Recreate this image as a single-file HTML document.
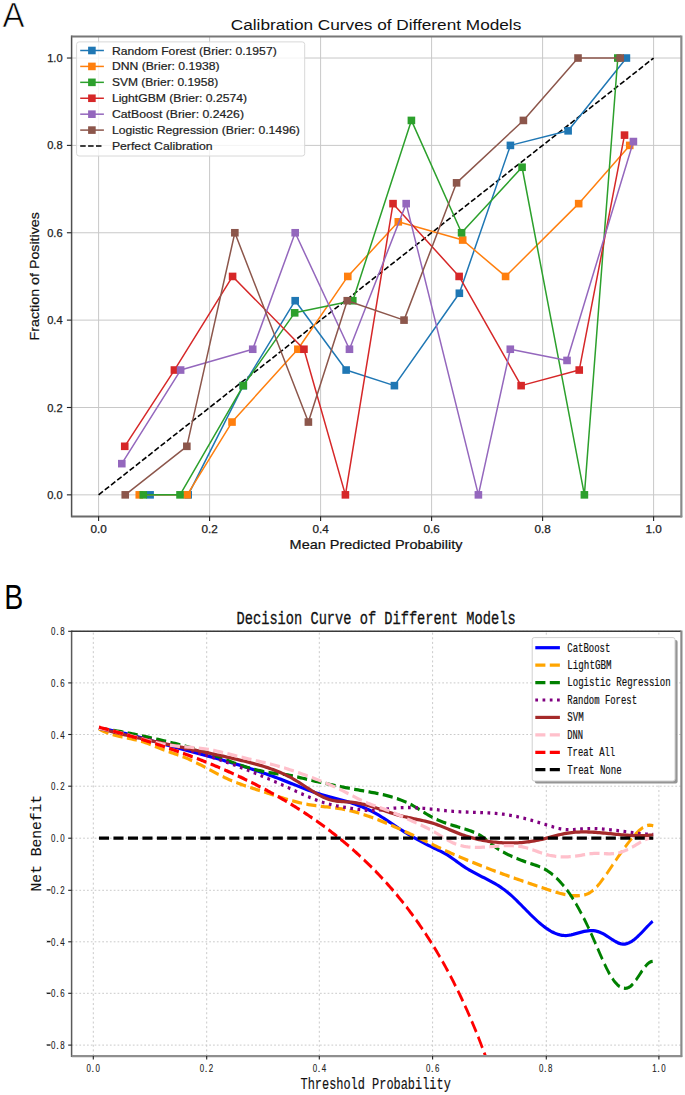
<!DOCTYPE html>
<html><head><meta charset="utf-8"><title>Calibration and Decision Curves</title>
<style>html,body{margin:0;padding:0;background:#fff;width:685px;height:1095px;overflow:hidden}svg{display:block}</style>
</head><body><svg width="685" height="1095" viewBox="0 0 685 1095"><g stroke="#c8c8c8" stroke-width="1"><line x1="98.60" y1="36.4" x2="98.60" y2="516.3"/><line x1="71.5" y1="494.85" x2="681.2" y2="494.85"/><line x1="209.60" y1="36.4" x2="209.60" y2="516.3"/><line x1="71.5" y1="407.49" x2="681.2" y2="407.49"/><line x1="320.60" y1="36.4" x2="320.60" y2="516.3"/><line x1="71.5" y1="320.12" x2="681.2" y2="320.12"/><line x1="431.60" y1="36.4" x2="431.60" y2="516.3"/><line x1="71.5" y1="232.76" x2="681.2" y2="232.76"/><line x1="542.60" y1="36.4" x2="542.60" y2="516.3"/><line x1="71.5" y1="145.39" x2="681.2" y2="145.39"/><line x1="653.60" y1="36.4" x2="653.60" y2="516.3"/><line x1="71.5" y1="58.03" x2="681.2" y2="58.03"/></g>
<line x1="98.60" y1="494.85" x2="653.60" y2="58.03" stroke="#000" stroke-width="1.6" stroke-dasharray="5.5,2.4"/>
<polyline points="150.10,494.85 188.18,494.85 243.29,385.65 295.18,300.71 346.13,370.04 394.41,385.65 459.35,293.24 510.41,145.39 568.13,130.83 626.40,58.03" fill="none" stroke="#1f77b4" stroke-width="1.5" stroke-linejoin="round"/>
<g fill="#1f77b4"><rect x="146.30" y="491.05" width="7.6" height="7.6"/><rect x="184.38" y="491.05" width="7.6" height="7.6"/><rect x="239.49" y="381.85" width="7.6" height="7.6"/><rect x="291.38" y="296.91" width="7.6" height="7.6"/><rect x="342.33" y="366.24" width="7.6" height="7.6"/><rect x="390.61" y="381.85" width="7.6" height="7.6"/><rect x="455.55" y="289.44" width="7.6" height="7.6"/><rect x="506.61" y="141.59" width="7.6" height="7.6"/><rect x="564.33" y="127.03" width="7.6" height="7.6"/><rect x="622.61" y="54.23" width="7.6" height="7.6"/></g>
<polyline points="139.28,494.85 187.18,494.85 232.02,422.05 297.85,349.24 347.79,276.44 398.30,221.84 462.68,240.04 505.58,276.44 578.67,203.64 629.74,145.39" fill="none" stroke="#ff7f0e" stroke-width="1.5" stroke-linejoin="round"/>
<g fill="#ff7f0e"><rect x="135.48" y="491.05" width="7.6" height="7.6"/><rect x="183.38" y="491.05" width="7.6" height="7.6"/><rect x="228.22" y="418.25" width="7.6" height="7.6"/><rect x="294.05" y="345.44" width="7.6" height="7.6"/><rect x="343.99" y="272.64" width="7.6" height="7.6"/><rect x="394.50" y="218.04" width="7.6" height="7.6"/><rect x="458.88" y="236.24" width="7.6" height="7.6"/><rect x="501.78" y="272.64" width="7.6" height="7.6"/><rect x="574.88" y="199.84" width="7.6" height="7.6"/><rect x="625.94" y="141.59" width="7.6" height="7.6"/></g>
<polyline points="143.28,494.85 180.02,494.85 243.29,385.65 294.68,312.84 352.79,300.71 411.40,120.43 461.57,232.76 522.07,167.24 584.39,494.85 617.80,58.03" fill="none" stroke="#2ca02c" stroke-width="1.5" stroke-linejoin="round"/>
<g fill="#2ca02c"><rect x="139.48" y="491.05" width="7.6" height="7.6"/><rect x="176.22" y="491.05" width="7.6" height="7.6"/><rect x="239.49" y="381.85" width="7.6" height="7.6"/><rect x="290.88" y="309.04" width="7.6" height="7.6"/><rect x="348.99" y="296.91" width="7.6" height="7.6"/><rect x="407.60" y="116.63" width="7.6" height="7.6"/><rect x="457.77" y="228.96" width="7.6" height="7.6"/><rect x="518.27" y="163.44" width="7.6" height="7.6"/><rect x="580.59" y="491.05" width="7.6" height="7.6"/><rect x="614.00" y="54.23" width="7.6" height="7.6"/></g>
<polyline points="124.74,446.31 174.41,370.04 232.58,276.44 303.95,349.24 345.41,494.85 393.03,203.64 459.13,276.44 521.12,385.65 579.23,370.04 624.52,135.12" fill="none" stroke="#d62728" stroke-width="1.5" stroke-linejoin="round"/>
<g fill="#d62728"><rect x="120.94" y="442.51" width="7.6" height="7.6"/><rect x="170.61" y="366.24" width="7.6" height="7.6"/><rect x="228.78" y="272.64" width="7.6" height="7.6"/><rect x="300.15" y="345.44" width="7.6" height="7.6"/><rect x="341.61" y="491.05" width="7.6" height="7.6"/><rect x="389.23" y="199.84" width="7.6" height="7.6"/><rect x="455.33" y="272.64" width="7.6" height="7.6"/><rect x="517.32" y="381.85" width="7.6" height="7.6"/><rect x="575.43" y="366.24" width="7.6" height="7.6"/><rect x="620.72" y="131.32" width="7.6" height="7.6"/></g>
<polyline points="121.80,463.65 180.63,370.04 252.72,349.24 295.18,232.76 349.46,349.24 406.18,203.64 478.39,494.85 510.30,349.24 567.02,360.44 633.40,141.55" fill="none" stroke="#9467bd" stroke-width="1.5" stroke-linejoin="round"/>
<g fill="#9467bd"><rect x="118.00" y="459.85" width="7.6" height="7.6"/><rect x="176.83" y="366.24" width="7.6" height="7.6"/><rect x="248.92" y="345.44" width="7.6" height="7.6"/><rect x="291.38" y="228.96" width="7.6" height="7.6"/><rect x="345.66" y="345.44" width="7.6" height="7.6"/><rect x="402.38" y="199.84" width="7.6" height="7.6"/><rect x="474.59" y="491.05" width="7.6" height="7.6"/><rect x="506.50" y="345.44" width="7.6" height="7.6"/><rect x="563.22" y="356.64" width="7.6" height="7.6"/><rect x="629.60" y="137.75" width="7.6" height="7.6"/></g>
<polyline points="125.24,494.85 186.84,446.31 234.85,232.76 308.39,422.05 347.24,300.71 404.02,320.12 456.58,182.84 523.40,120.43 578.01,58.03 620.19,58.03" fill="none" stroke="#8c564b" stroke-width="1.5" stroke-linejoin="round"/>
<g fill="#8c564b"><rect x="121.44" y="491.05" width="7.6" height="7.6"/><rect x="183.04" y="442.51" width="7.6" height="7.6"/><rect x="231.05" y="228.96" width="7.6" height="7.6"/><rect x="304.59" y="418.25" width="7.6" height="7.6"/><rect x="343.44" y="296.91" width="7.6" height="7.6"/><rect x="400.22" y="316.32" width="7.6" height="7.6"/><rect x="452.78" y="179.04" width="7.6" height="7.6"/><rect x="519.60" y="116.63" width="7.6" height="7.6"/><rect x="574.21" y="54.23" width="7.6" height="7.6"/><rect x="616.39" y="54.23" width="7.6" height="7.6"/></g>
<line x1="71.6" y1="35.4" x2="71.6" y2="517.3" stroke="#505050" stroke-width="1.5"/>
<line x1="71.5" y1="36.4" x2="681.2" y2="36.4" stroke="#777" stroke-width="2"/>
<line x1="71.5" y1="516.5" x2="682.2" y2="516.5" stroke="#6a6a6a" stroke-width="2"/>
<line x1="681.35" y1="35.4" x2="681.35" y2="517.3" stroke="#8a8a8a" stroke-width="2.2"/>
<g stroke="#222" stroke-width="1.1"><line x1="98.60" y1="516.3" x2="98.60" y2="521.10"/><line x1="66.90" y1="494.85" x2="71.5" y2="494.85"/><line x1="209.60" y1="516.3" x2="209.60" y2="521.10"/><line x1="66.90" y1="407.49" x2="71.5" y2="407.49"/><line x1="320.60" y1="516.3" x2="320.60" y2="521.10"/><line x1="66.90" y1="320.12" x2="71.5" y2="320.12"/><line x1="431.60" y1="516.3" x2="431.60" y2="521.10"/><line x1="66.90" y1="232.76" x2="71.5" y2="232.76"/><line x1="542.60" y1="516.3" x2="542.60" y2="521.10"/><line x1="66.90" y1="145.39" x2="71.5" y2="145.39"/><line x1="653.60" y1="516.3" x2="653.60" y2="521.10"/><line x1="66.90" y1="58.03" x2="71.5" y2="58.03"/></g>
<g font-family='"Liberation Sans", sans-serif' font-size="10.7" fill="#222" stroke="#222" stroke-width="0.25"><text x="90.45" y="532.7" textLength="16.3" lengthAdjust="spacingAndGlyphs">0.0</text><text x="47.20" y="498.95" textLength="15.4" lengthAdjust="spacingAndGlyphs">0.0</text><text x="201.45" y="532.7" textLength="16.3" lengthAdjust="spacingAndGlyphs">0.2</text><text x="47.20" y="411.59" textLength="15.4" lengthAdjust="spacingAndGlyphs">0.2</text><text x="312.45" y="532.7" textLength="16.3" lengthAdjust="spacingAndGlyphs">0.4</text><text x="47.20" y="324.22" textLength="15.4" lengthAdjust="spacingAndGlyphs">0.4</text><text x="423.45" y="532.7" textLength="16.3" lengthAdjust="spacingAndGlyphs">0.6</text><text x="47.20" y="236.86" textLength="15.4" lengthAdjust="spacingAndGlyphs">0.6</text><text x="534.45" y="532.7" textLength="16.3" lengthAdjust="spacingAndGlyphs">0.8</text><text x="47.20" y="149.49" textLength="15.4" lengthAdjust="spacingAndGlyphs">0.8</text><text x="645.45" y="532.7" textLength="16.3" lengthAdjust="spacingAndGlyphs">1.0</text><text x="47.20" y="62.13" textLength="15.4" lengthAdjust="spacingAndGlyphs">1.0</text></g>
<text x="230.8" y="29.5" font-family='"Liberation Sans", sans-serif' font-size="15.5" textLength="290.5" lengthAdjust="spacingAndGlyphs" fill="#111">Calibration Curves of Different Models</text>
<text x="289.6" y="549.3" font-family='"Liberation Sans", sans-serif' font-size="13.2" textLength="172.9" lengthAdjust="spacingAndGlyphs" fill="#111" stroke="#111" stroke-width="0.2">Mean Predicted Probability</text>
<text transform="translate(38.9,340.4) rotate(-90)" x="0" y="0" font-family='"Liberation Sans", sans-serif' font-size="13.2" textLength="128.3" lengthAdjust="spacingAndGlyphs" fill="#111" stroke="#111" stroke-width="0.2">Fraction of Positives</text>
<rect x="76.6" y="41.9" width="228.10" height="114.10" rx="2.5" fill="#fff" fill-opacity="0.8" stroke="#d8d8d8" stroke-width="1"/>
<line x1="80.2" y1="50.50" x2="103.9" y2="50.50" stroke="#1f77b4" stroke-width="1.5"/>
<rect x="88.10" y="46.70" width="7.6" height="7.6" fill="#1f77b4"/>
<text x="111.9" y="54.50" font-family='"Liberation Sans", sans-serif' font-size="11.3" textLength="164.8" lengthAdjust="spacingAndGlyphs" fill="#222" stroke="#222" stroke-width="0.2">Random Forest (Brier: 0.1957)</text>
<line x1="80.2" y1="66.42" x2="103.9" y2="66.42" stroke="#ff7f0e" stroke-width="1.5"/>
<rect x="88.10" y="62.62" width="7.6" height="7.6" fill="#ff7f0e"/>
<text x="111.9" y="70.42" font-family='"Liberation Sans", sans-serif' font-size="11.3" textLength="107.7" lengthAdjust="spacingAndGlyphs" fill="#222" stroke="#222" stroke-width="0.2">DNN (Brier: 0.1938)</text>
<line x1="80.2" y1="82.34" x2="103.9" y2="82.34" stroke="#2ca02c" stroke-width="1.5"/>
<rect x="88.10" y="78.54" width="7.6" height="7.6" fill="#2ca02c"/>
<text x="111.9" y="86.34" font-family='"Liberation Sans", sans-serif' font-size="11.3" textLength="106.3" lengthAdjust="spacingAndGlyphs" fill="#222" stroke="#222" stroke-width="0.2">SVM (Brier: 0.1958)</text>
<line x1="80.2" y1="98.26" x2="103.9" y2="98.26" stroke="#d62728" stroke-width="1.5"/>
<rect x="88.10" y="94.46" width="7.6" height="7.6" fill="#d62728"/>
<text x="111.9" y="102.26" font-family='"Liberation Sans", sans-serif' font-size="11.3" textLength="135.1" lengthAdjust="spacingAndGlyphs" fill="#222" stroke="#222" stroke-width="0.2">LightGBM (Brier: 0.2574)</text>
<line x1="80.2" y1="114.18" x2="103.9" y2="114.18" stroke="#9467bd" stroke-width="1.5"/>
<rect x="88.10" y="110.38" width="7.6" height="7.6" fill="#9467bd"/>
<text x="111.9" y="118.18" font-family='"Liberation Sans", sans-serif' font-size="11.3" textLength="132.1" lengthAdjust="spacingAndGlyphs" fill="#222" stroke="#222" stroke-width="0.2">CatBoost (Brier: 0.2426)</text>
<line x1="80.2" y1="130.10" x2="103.9" y2="130.10" stroke="#8c564b" stroke-width="1.5"/>
<rect x="88.10" y="126.30" width="7.6" height="7.6" fill="#8c564b"/>
<text x="111.9" y="134.10" font-family='"Liberation Sans", sans-serif' font-size="11.3" textLength="187.9" lengthAdjust="spacingAndGlyphs" fill="#222" stroke="#222" stroke-width="0.2">Logistic Regression (Brier: 0.1496)</text>
<line x1="80.2" y1="146.02" x2="103.9" y2="146.02" stroke="#000" stroke-width="1.6" stroke-dasharray="5.5,2.4"/>
<text x="111.9" y="150.02" font-family='"Liberation Sans", sans-serif' font-size="11.3" textLength="100.7" lengthAdjust="spacingAndGlyphs" fill="#222" stroke="#222" stroke-width="0.2">Perfect Calibration</text>
<text x="2.6" y="27.1" font-family='"Liberation Sans", sans-serif' font-size="35.6" textLength="22.0" lengthAdjust="spacingAndGlyphs" fill="#000" stroke="#fff" stroke-width="0.7">A</text>
<text x="4.2" y="608.8" font-family='"Liberation Sans", sans-serif' font-size="35.6" textLength="19" lengthAdjust="spacingAndGlyphs" fill="#000">B</text>
<g stroke="#cacaca" stroke-width="1"><line x1="93.30" y1="1056.0" x2="93.30" y2="631.3" stroke-dasharray="2.05,2.58"/><line x1="206.70" y1="1056.0" x2="206.70" y2="631.3" stroke-dasharray="2.05,2.58"/><line x1="319.30" y1="1056.0" x2="319.30" y2="631.3" stroke-dasharray="2.05,2.58"/><line x1="432.60" y1="1056.0" x2="432.60" y2="631.3" stroke-dasharray="2.05,2.58"/><line x1="546.30" y1="1056.0" x2="546.30" y2="631.3" stroke-dasharray="2.05,2.58"/><line x1="658.90" y1="1056.0" x2="658.90" y2="631.3" stroke-dasharray="2.05,2.58"/><line x1="71.7" y1="1045.10" x2="681.2" y2="1045.10" stroke-dasharray="1.75,2.07"/><line x1="71.7" y1="993.30" x2="681.2" y2="993.30" stroke-dasharray="1.75,2.07"/><line x1="71.7" y1="941.80" x2="681.2" y2="941.80" stroke-dasharray="1.75,2.07"/><line x1="71.7" y1="890.30" x2="681.2" y2="890.30" stroke-dasharray="1.75,2.07"/><line x1="71.7" y1="838.20" x2="681.2" y2="838.20" stroke-dasharray="1.75,2.07"/><line x1="71.7" y1="786.20" x2="681.2" y2="786.20" stroke-dasharray="1.75,2.07"/><line x1="71.7" y1="734.50" x2="681.2" y2="734.50" stroke-dasharray="1.75,2.07"/><line x1="71.7" y1="682.90" x2="681.2" y2="682.90" stroke-dasharray="1.75,2.07"/><line x1="71.7" y1="631.30" x2="681.2" y2="631.30" stroke-dasharray="1.75,2.07"/></g>
<defs><clipPath id="cb"><rect x="71.7" y="665.78" width="609.50" height="353.92"/></clipPath></defs>
<g transform="translate(0,838.2) scale(1,1.2) translate(0,-838.2)" clip-path="url(#cb)" fill="none" stroke-linecap="butt" stroke-linejoin="round">
<path d="M98.96,746.65 L100.81,746.87 L102.66,747.10 L104.51,747.35 L106.36,747.61 L108.22,747.89 L110.07,748.18 L111.92,748.48 L113.77,748.79 L115.62,749.12 L117.48,749.45 L119.33,749.80 L121.18,750.15 L123.03,750.52 L124.88,750.89 L126.73,751.27 L128.59,751.66 L130.44,752.05 L132.29,752.46 L134.14,752.86 L135.99,753.28 L137.85,753.70 L139.70,754.12 L141.55,754.55 L143.40,754.98 L145.25,755.42 L147.11,755.86 L148.96,756.30 L150.81,756.74 L152.66,757.18 L154.51,757.63 L156.37,758.07 L158.22,758.52 L160.07,758.96 L161.92,759.40 L163.77,759.84 L165.62,760.28 L167.48,760.72 L169.33,761.15 L171.18,761.58 L173.03,762.00 L174.88,762.43 L176.74,762.84 L178.59,763.26 L180.44,763.67 L182.29,764.09 L184.14,764.50 L186.00,764.90 L187.85,765.31 L189.70,765.72 L191.55,766.12 L193.40,766.53 L195.26,766.94 L197.11,767.34 L198.96,767.75 L200.81,768.16 L202.66,768.57 L204.52,768.98 L206.37,769.39 L208.22,769.81 L210.07,770.23 L211.92,770.65 L213.77,771.08 L215.63,771.50 L217.48,771.93 L219.33,772.37 L221.18,772.80 L223.03,773.24 L224.89,773.69 L226.74,774.13 L228.59,774.58 L230.44,775.04 L232.29,775.50 L234.15,775.96 L236.00,776.42 L237.85,776.89 L239.70,777.37 L241.55,777.84 L243.41,778.33 L245.26,778.81 L247.11,779.30 L248.96,779.80 L250.81,780.30 L252.66,780.80 L254.52,781.31 L256.37,781.83 L258.22,782.35 L260.07,782.87 L261.92,783.41 L263.78,783.94 L265.63,784.48 L267.48,785.03 L269.33,785.58 L271.18,786.14 L273.04,786.70 L274.89,787.27 L276.74,787.85 L278.59,788.43 L280.44,789.02 L282.30,789.62 L284.15,790.22 L286.00,790.83 L287.85,791.44 L289.70,792.06 L291.56,792.68 L293.41,793.30 L295.26,793.91 L297.11,794.53 L298.96,795.15 L300.81,795.76 L302.67,796.36 L304.52,796.96 L306.37,797.54 L308.22,798.12 L310.07,798.69 L311.93,799.24 L313.78,799.78 L315.63,800.30 L317.48,800.80 L319.33,801.29 L321.19,801.76 L323.04,802.21 L324.89,802.65 L326.74,803.08 L328.59,803.50 L330.45,803.91 L332.30,804.32 L334.15,804.73 L336.00,805.14 L337.85,805.55 L339.70,805.96 L341.56,806.39 L343.41,806.82 L345.26,807.27 L347.11,807.73 L348.96,808.20 L350.82,808.69 L352.67,809.20 L354.52,809.73 L356.37,810.27 L358.22,810.84 L360.08,811.43 L361.93,812.05 L363.78,812.69 L365.63,813.36 L367.48,814.06 L369.34,814.79 L371.19,815.55 L373.04,816.34 L374.89,817.17 L376.74,818.03 L378.60,818.93 L380.45,819.86 L382.30,820.82 L384.15,821.80 L386.00,822.81 L387.85,823.83 L389.71,824.86 L391.56,825.89 L393.41,826.93 L395.26,827.97 L397.11,829.00 L398.97,830.02 L400.82,831.02 L402.67,832.01 L404.52,832.98 L406.37,833.94 L408.23,834.87 L410.08,835.79 L411.93,836.70 L413.78,837.59 L415.63,838.47 L417.49,839.33 L419.34,840.17 L421.19,841.01 L423.04,841.83 L424.89,842.63 L426.74,843.43 L428.60,844.21 L430.45,844.98 L432.30,845.74 L434.15,846.48 L436.00,847.22 L437.86,847.95 L439.71,848.70 L441.56,849.46 L443.41,850.27 L445.26,851.12 L447.12,852.04 L448.97,853.02 L450.82,854.06 L452.67,855.15 L454.52,856.26 L456.38,857.39 L458.23,858.53 L460.08,859.65 L461.93,860.75 L463.78,861.80 L465.64,862.82 L467.49,863.78 L469.34,864.70 L471.19,865.59 L473.04,866.45 L474.89,867.28 L476.75,868.08 L478.60,868.88 L480.45,869.66 L482.30,870.44 L484.15,871.22 L486.01,872.00 L487.86,872.80 L489.71,873.61 L491.56,874.44 L493.41,875.30 L495.27,876.19 L497.12,877.11 L498.97,878.08 L500.82,879.09 L502.67,880.16 L504.53,881.28 L506.38,882.46 L508.23,883.71 L510.08,885.03 L511.93,886.41 L513.78,887.84 L515.64,889.32 L517.49,890.83 L519.34,892.37 L521.19,893.93 L523.04,895.50 L524.90,897.08 L526.75,898.65 L528.60,900.21 L530.45,901.75 L532.30,903.27 L534.16,904.75 L536.01,906.19 L537.86,907.59 L539.71,908.94 L541.56,910.23 L543.42,911.46 L545.27,912.62 L547.12,913.71 L548.97,914.72 L550.82,915.65 L552.68,916.48 L554.53,917.22 L556.38,917.86 L558.23,918.39 L560.08,918.80 L561.93,919.10 L563.79,919.26 L565.64,919.30 L567.49,919.22 L569.34,919.03 L571.19,918.75 L573.05,918.40 L574.90,918.00 L576.75,917.57 L578.60,917.13 L580.45,916.69 L582.31,916.27 L584.16,915.89 L586.01,915.58 L587.86,915.34 L589.71,915.19 L591.57,915.16 L593.42,915.26 L595.27,915.49 L597.12,915.84 L598.97,916.32 L600.82,916.92 L602.68,917.65 L604.53,918.49 L606.38,919.44 L608.23,920.45 L610.08,921.48 L611.94,922.51 L613.79,923.49 L615.64,924.39 L617.49,925.18 L619.34,925.81 L621.20,926.25 L623.05,926.46 L624.90,926.41 L626.75,926.10 L628.60,925.55 L630.46,924.78 L632.31,923.82 L634.16,922.69 L636.01,921.42 L637.86,920.02 L639.71,918.53 L641.57,916.96 L643.42,915.35 L645.27,913.71 L647.12,912.07 L648.97,910.44 L650.83,908.87 L652.68,907.37" stroke="#0000ff" stroke-width="2.73"/>
<path d="M98.96,747.26 L100.81,748.05 L102.66,748.78 L104.52,749.46 L106.37,750.08 L108.23,750.65 L110.08,751.18 L111.93,751.67 L113.79,752.12 L115.64,752.54 L117.49,752.94 L119.35,753.31 L121.20,753.66 L123.06,754.00 L124.91,754.33 L126.76,754.65 L128.62,754.97 L130.47,755.30 L132.32,755.63 L134.18,755.97 L136.03,756.33 L137.89,756.71 L139.74,757.11 L141.59,757.54 L143.45,758.01 L145.30,758.51 L147.15,759.05 L149.01,759.64 L150.86,760.25 L152.72,760.89 L154.57,761.55 L156.42,762.20 L158.28,762.84 L160.13,763.46 L161.99,764.06 L163.84,764.64 L165.69,765.21 L167.55,765.76 L169.40,766.30 L171.25,766.83 L173.11,767.37 L174.96,767.91 L176.82,768.45 L178.67,769.00 L180.52,769.56 L182.38,770.14 L184.23,770.75 L186.08,771.37 L187.94,772.03 L189.79,772.71 L191.65,773.42 L193.50,774.16 L195.35,774.91 L197.21,775.69 L199.06,776.48 L200.92,777.29 L202.77,778.10 L204.62,778.93 L206.48,779.76 L208.33,780.59 L210.18,781.43 L212.04,782.26 L213.89,783.09 L215.75,783.91 L217.60,784.72 L219.45,785.51 L221.31,786.29 L223.16,787.05 L225.01,787.80 L226.87,788.51 L228.72,789.21 L230.58,789.88 L232.43,790.53 L234.28,791.16 L236.14,791.77 L237.99,792.36 L239.85,792.94 L241.70,793.50 L243.55,794.05 L245.41,794.59 L247.26,795.12 L249.11,795.64 L250.97,796.15 L252.82,796.66 L254.68,797.16 L256.53,797.66 L258.38,798.16 L260.24,798.65 L262.09,799.15 L263.94,799.65 L265.80,800.15 L267.65,800.65 L269.51,801.16 L271.36,801.66 L273.21,802.16 L275.07,802.66 L276.92,803.16 L278.78,803.65 L280.63,804.14 L282.48,804.62 L284.34,805.10 L286.19,805.56 L288.04,806.02 L289.90,806.46 L291.75,806.90 L293.61,807.32 L295.46,807.73 L297.31,808.13 L299.17,808.51 L301.02,808.88 L302.87,809.23 L304.73,809.56 L306.58,809.87 L308.44,810.17 L310.29,810.44 L312.14,810.69 L314.00,810.92 L315.85,811.13 L317.71,811.33 L319.56,811.52 L321.41,811.69 L323.27,811.86 L325.12,812.03 L326.97,812.19 L328.83,812.36 L330.68,812.54 L332.54,812.72 L334.39,812.91 L336.24,813.12 L338.10,813.35 L339.95,813.60 L341.80,813.86 L343.66,814.15 L345.51,814.47 L347.37,814.80 L349.22,815.15 L351.07,815.52 L352.93,815.91 L354.78,816.32 L356.64,816.75 L358.49,817.20 L360.34,817.66 L362.20,818.14 L364.05,818.64 L365.90,819.15 L367.76,819.67 L369.61,820.21 L371.47,820.77 L373.32,821.33 L375.17,821.91 L377.03,822.51 L378.88,823.11 L380.73,823.73 L382.59,824.36 L384.44,824.99 L386.30,825.64 L388.15,826.30 L390.00,826.96 L391.86,827.64 L393.71,828.32 L395.56,829.01 L397.42,829.70 L399.27,830.40 L401.13,831.11 L402.98,831.82 L404.83,832.54 L406.69,833.26 L408.54,833.98 L410.40,834.71 L412.25,835.44 L414.10,836.17 L415.96,836.91 L417.81,837.64 L419.66,838.38 L421.52,839.12 L423.37,839.85 L425.23,840.59 L427.08,841.33 L428.93,842.06 L430.79,842.80 L432.64,843.53 L434.49,844.26 L436.35,844.99 L438.20,845.72 L440.06,846.44 L441.91,847.16 L443.76,847.87 L445.62,848.58 L447.47,849.29 L449.33,849.99 L451.18,850.68 L453.03,851.37 L454.89,852.05 L456.74,852.73 L458.59,853.40 L460.45,854.07 L462.30,854.73 L464.16,855.39 L466.01,856.04 L467.86,856.68 L469.72,857.32 L471.57,857.96 L473.42,858.59 L475.28,859.22 L477.13,859.84 L478.99,860.45 L480.84,861.07 L482.69,861.67 L484.55,862.28 L486.40,862.88 L488.26,863.47 L490.11,864.06 L491.96,864.65 L493.82,865.23 L495.67,865.81 L497.52,866.39 L499.38,866.96 L501.23,867.53 L503.09,868.09 L504.94,868.65 L506.79,869.21 L508.65,869.77 L510.50,870.32 L512.35,870.87 L514.21,871.42 L516.06,871.97 L517.92,872.51 L519.77,873.05 L521.62,873.59 L523.48,874.13 L525.33,874.66 L527.19,875.19 L529.04,875.72 L530.89,876.25 L532.75,876.78 L534.60,877.30 L536.45,877.83 L538.31,878.35 L540.16,878.87 L542.02,879.39 L543.87,879.91 L545.72,880.43 L547.58,880.95 L549.43,881.47 L551.28,881.97 L553.14,882.47 L554.99,882.95 L556.85,883.41 L558.70,883.85 L560.55,884.27 L562.41,884.65 L564.26,885.00 L566.12,885.31 L567.97,885.58 L569.82,885.80 L571.68,885.98 L573.53,886.10 L575.38,886.16 L577.24,886.16 L579.09,886.10 L580.95,885.96 L582.80,885.73 L584.65,885.38 L586.51,884.88 L588.36,884.22 L590.21,883.36 L592.07,882.29 L593.92,881.00 L595.78,879.50 L597.63,877.83 L599.48,876.00 L601.34,874.03 L603.19,871.96 L605.05,869.79 L606.90,867.56 L608.75,865.29 L610.61,862.98 L612.46,860.68 L614.31,858.39 L616.17,856.12 L618.02,853.87 L619.88,851.64 L621.73,849.46 L623.58,847.31 L625.44,845.20 L627.29,843.15 L629.14,841.15 L631.00,839.21 L632.85,837.34 L634.71,835.56 L636.56,833.88 L638.41,832.34 L640.27,830.96 L642.12,829.76 L643.97,828.77 L645.83,828.02 L647.68,827.53 L649.54,827.32 L651.39,827.42 L653.24,827.85" stroke="#ffa500" stroke-width="2.73" stroke-dasharray="10.1,4.38"/>
<path d="M98.96,746.65 L100.81,746.85 L102.66,747.05 L104.51,747.26 L106.36,747.48 L108.22,747.70 L110.07,747.93 L111.92,748.17 L113.77,748.42 L115.62,748.67 L117.48,748.93 L119.33,749.20 L121.18,749.47 L123.03,749.74 L124.88,750.03 L126.73,750.32 L128.59,750.61 L130.44,750.91 L132.29,751.21 L134.14,751.52 L135.99,751.84 L137.85,752.16 L139.70,752.48 L141.55,752.81 L143.40,753.14 L145.25,753.47 L147.11,753.81 L148.96,754.16 L150.81,754.50 L152.66,754.85 L154.51,755.20 L156.37,755.56 L158.22,755.92 L160.07,756.28 L161.92,756.64 L163.77,757.01 L165.62,757.37 L167.48,757.74 L169.33,758.12 L171.18,758.49 L173.03,758.86 L174.88,759.24 L176.74,759.62 L178.59,760.01 L180.44,760.40 L182.29,760.79 L184.14,761.19 L186.00,761.60 L187.85,762.02 L189.70,762.44 L191.55,762.87 L193.40,763.32 L195.26,763.77 L197.11,764.23 L198.96,764.71 L200.81,765.19 L202.66,765.69 L204.52,766.21 L206.37,766.73 L208.22,767.28 L210.07,767.83 L211.92,768.40 L213.77,768.98 L215.63,769.56 L217.48,770.15 L219.33,770.75 L221.18,771.35 L223.03,771.95 L224.89,772.55 L226.74,773.15 L228.59,773.74 L230.44,774.33 L232.29,774.92 L234.15,775.49 L236.00,776.05 L237.85,776.60 L239.70,777.14 L241.55,777.66 L243.41,778.17 L245.26,778.66 L247.11,779.13 L248.96,779.59 L250.81,780.03 L252.66,780.45 L254.52,780.86 L256.37,781.24 L258.22,781.61 L260.07,781.97 L261.92,782.30 L263.78,782.62 L265.63,782.92 L267.48,783.20 L269.33,783.46 L271.18,783.71 L273.04,783.93 L274.89,784.14 L276.74,784.34 L278.59,784.52 L280.44,784.70 L282.30,784.89 L284.15,785.08 L286.00,785.30 L287.85,785.53 L289.70,785.80 L291.56,786.10 L293.41,786.42 L295.26,786.77 L297.11,787.13 L298.96,787.50 L300.81,787.87 L302.67,788.24 L304.52,788.61 L306.37,788.97 L308.22,789.34 L310.07,789.70 L311.93,790.05 L313.78,790.41 L315.63,790.76 L317.48,791.11 L319.33,791.45 L321.19,791.79 L323.04,792.13 L324.89,792.47 L326.74,792.80 L328.59,793.13 L330.45,793.46 L332.30,793.79 L334.15,794.11 L336.00,794.43 L337.85,794.74 L339.70,795.05 L341.56,795.36 L343.41,795.67 L345.26,795.97 L347.11,796.27 L348.96,796.56 L350.82,796.86 L352.67,797.15 L354.52,797.43 L356.37,797.72 L358.22,798.00 L360.08,798.27 L361.93,798.55 L363.78,798.82 L365.63,799.09 L367.48,799.37 L369.34,799.64 L371.19,799.93 L373.04,800.22 L374.89,800.51 L376.74,800.82 L378.60,801.14 L380.45,801.47 L382.30,801.81 L384.15,802.17 L386.00,802.54 L387.85,802.94 L389.71,803.35 L391.56,803.79 L393.41,804.25 L395.26,804.73 L397.11,805.24 L398.97,805.79 L400.82,806.36 L402.67,806.97 L404.52,807.62 L406.37,808.30 L408.23,809.03 L410.08,809.79 L411.93,810.60 L413.78,811.46 L415.63,812.36 L417.49,813.30 L419.34,814.27 L421.19,815.25 L423.04,816.23 L424.89,817.20 L426.74,818.15 L428.60,819.06 L430.45,819.93 L432.30,820.75 L434.15,821.53 L436.00,822.27 L437.86,822.98 L439.71,823.64 L441.56,824.27 L443.41,824.86 L445.26,825.43 L447.12,825.96 L448.97,826.48 L450.82,826.98 L452.67,827.46 L454.52,827.93 L456.38,828.39 L458.23,828.85 L460.08,829.32 L461.93,829.78 L463.78,830.26 L465.64,830.75 L467.49,831.25 L469.34,831.78 L471.19,832.33 L473.04,832.93 L474.89,833.58 L476.75,834.29 L478.60,835.09 L480.45,835.98 L482.30,836.98 L484.15,838.09 L486.01,839.27 L487.86,840.52 L489.71,841.79 L491.56,843.07 L493.41,844.32 L495.27,845.52 L497.12,846.65 L498.97,847.69 L500.82,848.65 L502.67,849.53 L504.53,850.36 L506.38,851.15 L508.23,851.91 L510.08,852.64 L511.93,853.35 L513.78,854.04 L515.64,854.70 L517.49,855.33 L519.34,855.95 L521.19,856.55 L523.04,857.13 L524.90,857.69 L526.75,858.24 L528.60,858.77 L530.45,859.29 L532.30,859.80 L534.16,860.31 L536.01,860.84 L537.86,861.41 L539.71,862.01 L541.56,862.68 L543.42,863.42 L545.27,864.25 L547.12,865.18 L548.97,866.21 L550.82,867.35 L552.68,868.59 L554.53,869.94 L556.38,871.37 L558.23,872.91 L560.08,874.53 L561.93,876.24 L563.79,878.05 L565.64,879.95 L567.49,881.97 L569.34,884.11 L571.19,886.38 L573.05,888.78 L574.90,891.30 L576.75,893.94 L578.60,896.69 L580.45,899.53 L582.31,902.45 L584.16,905.45 L586.01,908.55 L587.86,911.74 L589.71,915.03 L591.57,918.42 L593.42,921.92 L595.27,925.48 L597.12,929.08 L598.97,932.67 L600.82,936.22 L602.68,939.69 L604.53,943.05 L606.38,946.25 L608.23,949.27 L610.08,952.06 L611.94,954.58 L613.79,956.81 L615.64,958.74 L617.49,960.35 L619.34,961.63 L621.20,962.56 L623.05,963.14 L624.90,963.35 L626.75,963.18 L628.60,962.61 L630.46,961.64 L632.31,960.25 L634.16,958.47 L636.01,956.40 L637.86,954.12 L639.71,951.75 L641.57,949.39 L643.42,947.13 L645.27,945.07 L647.12,943.32 L648.97,941.98 L650.83,941.14 L652.68,940.91" stroke="#008000" stroke-width="2.73" stroke-dasharray="10.1,4.38"/>
<path d="M98.96,746.56 L100.81,746.91 L102.66,747.25 L104.52,747.59 L106.37,747.94 L108.23,748.28 L110.08,748.63 L111.93,748.97 L113.79,749.32 L115.64,749.67 L117.49,750.01 L119.35,750.36 L121.20,750.71 L123.06,751.06 L124.91,751.42 L126.76,751.77 L128.62,752.12 L130.47,752.48 L132.32,752.84 L134.18,753.20 L136.03,753.56 L137.89,753.92 L139.74,754.28 L141.59,754.65 L143.45,755.02 L145.30,755.39 L147.15,755.76 L149.01,756.13 L150.86,756.51 L152.72,756.89 L154.57,757.27 L156.42,757.66 L158.28,758.04 L160.13,758.43 L161.99,758.83 L163.84,759.22 L165.69,759.62 L167.55,760.02 L169.40,760.43 L171.25,760.83 L173.11,761.25 L174.96,761.66 L176.82,762.08 L178.67,762.50 L180.52,762.93 L182.38,763.35 L184.23,763.79 L186.08,764.22 L187.94,764.67 L189.79,765.11 L191.65,765.56 L193.50,766.01 L195.35,766.47 L197.21,766.93 L199.06,767.40 L200.92,767.87 L202.77,768.35 L204.62,768.83 L206.48,769.31 L208.33,769.80 L210.18,770.30 L212.04,770.80 L213.89,771.30 L215.75,771.81 L217.60,772.33 L219.45,772.85 L221.31,773.38 L223.16,773.91 L225.01,774.45 L226.87,774.99 L228.72,775.54 L230.58,776.10 L232.43,776.66 L234.28,777.23 L236.14,777.80 L237.99,778.38 L239.85,778.97 L241.70,779.56 L243.55,780.16 L245.41,780.77 L247.26,781.38 L249.11,782.00 L250.97,782.62 L252.82,783.25 L254.68,783.89 L256.53,784.53 L258.38,785.17 L260.24,785.82 L262.09,786.47 L263.94,787.13 L265.80,787.79 L267.65,788.46 L269.51,789.13 L271.36,789.81 L273.21,790.49 L275.07,791.17 L276.92,791.85 L278.78,792.54 L280.63,793.23 L282.48,793.93 L284.34,794.62 L286.19,795.32 L288.04,796.02 L289.90,796.73 L291.75,797.43 L293.61,798.14 L295.46,798.85 L297.31,799.56 L299.17,800.27 L301.02,800.97 L302.87,801.67 L304.73,802.37 L306.58,803.05 L308.44,803.73 L310.29,804.39 L312.14,805.03 L314.00,805.65 L315.85,806.26 L317.71,806.84 L319.56,807.39 L321.41,807.92 L323.27,808.42 L325.12,808.89 L326.97,809.33 L328.83,809.74 L330.68,810.12 L332.54,810.49 L334.39,810.83 L336.24,811.15 L338.10,811.46 L339.95,811.75 L341.80,812.02 L343.66,812.29 L345.51,812.55 L347.37,812.80 L349.22,813.05 L351.07,813.29 L352.93,813.53 L354.78,813.77 L356.64,814.01 L358.49,814.23 L360.34,814.45 L362.20,814.64 L364.05,814.81 L365.90,814.95 L367.76,815.06 L369.61,815.13 L371.47,815.16 L373.32,815.15 L375.17,815.08 L377.03,814.98 L378.88,814.84 L380.73,814.67 L382.59,814.47 L384.44,814.26 L386.30,814.04 L388.15,813.82 L390.00,813.60 L391.86,813.40 L393.71,813.20 L395.56,813.04 L397.42,812.90 L399.27,812.78 L401.13,812.70 L402.98,812.64 L404.83,812.61 L406.69,812.60 L408.54,812.61 L410.40,812.64 L412.25,812.68 L414.10,812.75 L415.96,812.83 L417.81,812.93 L419.66,813.04 L421.52,813.16 L423.37,813.30 L425.23,813.44 L427.08,813.59 L428.93,813.75 L430.79,813.91 L432.64,814.08 L434.49,814.25 L436.35,814.42 L438.20,814.59 L440.06,814.76 L441.91,814.92 L443.76,815.09 L445.62,815.24 L447.47,815.39 L449.33,815.53 L451.18,815.67 L453.03,815.79 L454.89,815.90 L456.74,815.99 L458.59,816.08 L460.45,816.17 L462.30,816.24 L464.16,816.31 L466.01,816.37 L467.86,816.43 L469.72,816.48 L471.57,816.54 L473.42,816.59 L475.28,816.64 L477.13,816.70 L478.99,816.75 L480.84,816.81 L482.69,816.88 L484.55,816.95 L486.40,817.02 L488.26,817.11 L490.11,817.20 L491.96,817.30 L493.82,817.41 L495.67,817.54 L497.52,817.68 L499.38,817.83 L501.23,818.00 L503.09,818.18 L504.94,818.38 L506.79,818.60 L508.65,818.84 L510.50,819.10 L512.35,819.38 L514.21,819.68 L516.06,820.00 L517.92,820.34 L519.77,820.70 L521.62,821.08 L523.48,821.47 L525.33,821.87 L527.19,822.29 L529.04,822.72 L530.89,823.15 L532.75,823.60 L534.60,824.06 L536.45,824.53 L538.31,825.00 L540.16,825.48 L542.02,825.96 L543.87,826.44 L545.72,826.93 L547.58,827.41 L549.43,827.89 L551.28,828.36 L553.14,828.82 L554.99,829.25 L556.85,829.65 L558.70,830.02 L560.55,830.34 L562.41,830.61 L564.26,830.83 L566.12,830.98 L567.97,831.07 L569.82,831.10 L571.68,831.07 L573.53,831.00 L575.38,830.90 L577.24,830.78 L579.09,830.65 L580.95,830.51 L582.80,830.39 L584.65,830.29 L586.51,830.22 L588.36,830.17 L590.21,830.15 L592.07,830.15 L593.92,830.17 L595.78,830.22 L597.63,830.28 L599.48,830.37 L601.34,830.47 L603.19,830.59 L605.05,830.72 L606.90,830.87 L608.75,831.02 L610.61,831.19 L612.46,831.37 L614.31,831.56 L616.17,831.75 L618.02,831.95 L619.88,832.15 L621.73,832.36 L623.58,832.57 L625.44,832.77 L627.29,832.98 L629.14,833.19 L631.00,833.39 L632.85,833.58 L634.71,833.77 L636.56,833.96 L638.41,834.13 L640.27,834.29 L642.12,834.45 L643.97,834.59 L645.83,834.71 L647.68,834.82 L649.54,834.92 L651.39,834.99 L653.24,835.05" stroke="#800080" stroke-width="2.73" stroke-dasharray="2.73,4.51" stroke-linecap="butt"/>
<path d="M98.96,746.59 L100.81,747.01 L102.66,747.41 L104.52,747.82 L106.37,748.22 L108.23,748.61 L110.08,749.01 L111.93,749.40 L113.79,749.78 L115.64,750.17 L117.49,750.55 L119.35,750.92 L121.20,751.30 L123.06,751.67 L124.91,752.04 L126.76,752.40 L128.62,752.77 L130.47,753.13 L132.32,753.48 L134.18,753.84 L136.03,754.19 L137.89,754.54 L139.74,754.89 L141.59,755.24 L143.45,755.59 L145.30,755.93 L147.15,756.27 L149.01,756.61 L150.86,756.95 L152.72,757.29 L154.57,757.62 L156.42,757.96 L158.28,758.29 L160.13,758.62 L161.99,758.95 L163.84,759.28 L165.69,759.61 L167.55,759.94 L169.40,760.27 L171.25,760.60 L173.11,760.92 L174.96,761.25 L176.82,761.58 L178.67,761.90 L180.52,762.23 L182.38,762.56 L184.23,762.88 L186.08,763.21 L187.94,763.53 L189.79,763.86 L191.65,764.19 L193.50,764.51 L195.35,764.84 L197.21,765.17 L199.06,765.50 L200.92,765.83 L202.77,766.16 L204.62,766.50 L206.48,766.83 L208.33,767.16 L210.18,767.50 L212.04,767.84 L213.89,768.18 L215.75,768.52 L217.60,768.86 L219.45,769.20 L221.31,769.55 L223.16,769.89 L225.01,770.24 L226.87,770.60 L228.72,770.95 L230.58,771.31 L232.43,771.66 L234.28,772.03 L236.14,772.39 L237.99,772.75 L239.85,773.12 L241.70,773.50 L243.55,773.87 L245.41,774.25 L247.26,774.63 L249.11,775.02 L250.97,775.41 L252.82,775.81 L254.68,776.22 L256.53,776.65 L258.38,777.08 L260.24,777.52 L262.09,777.98 L263.94,778.46 L265.80,778.95 L267.65,779.45 L269.51,779.98 L271.36,780.52 L273.21,781.09 L275.07,781.68 L276.92,782.29 L278.78,782.92 L280.63,783.58 L282.48,784.26 L284.34,784.98 L286.19,785.72 L288.04,786.49 L289.90,787.30 L291.75,788.13 L293.61,789.00 L295.46,789.90 L297.31,790.84 L299.17,791.81 L301.02,792.79 L302.87,793.79 L304.73,794.80 L306.58,795.81 L308.44,796.82 L310.29,797.81 L312.14,798.79 L314.00,799.75 L315.85,800.68 L317.71,801.57 L319.56,802.42 L321.41,803.22 L323.27,803.96 L325.12,804.65 L326.97,805.26 L328.83,805.80 L330.68,806.27 L332.54,806.65 L334.39,806.96 L336.24,807.21 L338.10,807.41 L339.95,807.57 L341.80,807.70 L343.66,807.81 L345.51,807.90 L347.37,808.00 L349.22,808.11 L351.07,808.23 L352.93,808.39 L354.78,808.58 L356.64,808.81 L358.49,809.08 L360.34,809.38 L362.20,809.72 L364.05,810.08 L365.90,810.48 L367.76,810.89 L369.61,811.33 L371.47,811.79 L373.32,812.26 L375.17,812.75 L377.03,813.25 L378.88,813.76 L380.73,814.27 L382.59,814.79 L384.44,815.31 L386.30,815.82 L388.15,816.33 L390.00,816.84 L391.86,817.33 L393.71,817.81 L395.56,818.28 L397.42,818.73 L399.27,819.16 L401.13,819.57 L402.98,819.96 L404.83,820.32 L406.69,820.68 L408.54,821.01 L410.40,821.34 L412.25,821.67 L414.10,821.99 L415.96,822.31 L417.81,822.63 L419.66,822.96 L421.52,823.30 L423.37,823.65 L425.23,824.02 L427.08,824.40 L428.93,824.81 L430.79,825.24 L432.64,825.70 L434.49,826.19 L436.35,826.72 L438.20,827.27 L440.06,827.86 L441.91,828.46 L443.76,829.09 L445.62,829.73 L447.47,830.37 L449.33,831.02 L451.18,831.67 L453.03,832.32 L454.89,832.95 L456.74,833.58 L458.59,834.18 L460.45,834.76 L462.30,835.31 L464.16,835.85 L466.01,836.36 L467.86,836.84 L469.72,837.31 L471.57,837.75 L473.42,838.17 L475.28,838.57 L477.13,838.95 L478.99,839.30 L480.84,839.64 L482.69,839.95 L484.55,840.24 L486.40,840.51 L488.26,840.76 L490.11,840.99 L491.96,841.20 L493.82,841.39 L495.67,841.56 L497.52,841.70 L499.38,841.83 L501.23,841.94 L503.09,842.03 L504.94,842.10 L506.79,842.15 L508.65,842.18 L510.50,842.19 L512.35,842.18 L514.21,842.15 L516.06,842.10 L517.92,842.03 L519.77,841.94 L521.62,841.83 L523.48,841.69 L525.33,841.54 L527.19,841.36 L529.04,841.16 L530.89,840.93 L532.75,840.69 L534.60,840.42 L536.45,840.12 L538.31,839.80 L540.16,839.46 L542.02,839.10 L543.87,838.72 L545.72,838.32 L547.58,837.91 L549.43,837.50 L551.28,837.09 L553.14,836.68 L554.99,836.27 L556.85,835.88 L558.70,835.49 L560.55,835.13 L562.41,834.79 L564.26,834.47 L566.12,834.18 L567.97,833.93 L569.82,833.71 L571.68,833.52 L573.53,833.36 L575.38,833.23 L577.24,833.13 L579.09,833.06 L580.95,833.01 L582.80,832.99 L584.65,832.98 L586.51,833.00 L588.36,833.04 L590.21,833.09 L592.07,833.16 L593.92,833.25 L595.78,833.35 L597.63,833.46 L599.48,833.58 L601.34,833.72 L603.19,833.86 L605.05,834.00 L606.90,834.15 L608.75,834.31 L610.61,834.47 L612.46,834.62 L614.31,834.78 L616.17,834.94 L618.02,835.09 L619.88,835.24 L621.73,835.38 L623.58,835.51 L625.44,835.63 L627.29,835.74 L629.14,835.84 L631.00,835.93 L632.85,836.00 L634.71,836.06 L636.56,836.10 L638.41,836.12 L640.27,836.11 L642.12,836.09 L643.97,836.04 L645.83,835.97 L647.68,835.87 L649.54,835.74 L651.39,835.59 L653.24,835.40" stroke="#a52a2a" stroke-width="2.73"/>
<path d="M98.96,746.67 L100.81,746.91 L102.66,747.16 L104.52,747.44 L106.37,747.73 L108.23,748.04 L110.08,748.37 L111.93,748.71 L113.79,749.07 L115.64,749.44 L117.49,749.82 L119.35,750.22 L121.20,750.62 L123.06,751.03 L124.91,751.44 L126.76,751.87 L128.62,752.29 L130.47,752.73 L132.32,753.16 L134.18,753.60 L136.03,754.03 L137.89,754.47 L139.74,754.90 L141.59,755.33 L143.45,755.75 L145.30,756.17 L147.15,756.59 L149.01,756.99 L150.86,757.39 L152.72,757.78 L154.57,758.15 L156.42,758.52 L158.28,758.87 L160.13,759.20 L161.99,759.52 L163.84,759.83 L165.69,760.11 L167.55,760.38 L169.40,760.62 L171.25,760.85 L173.11,761.05 L174.96,761.24 L176.82,761.41 L178.67,761.57 L180.52,761.71 L182.38,761.85 L184.23,761.99 L186.08,762.11 L187.94,762.24 L189.79,762.37 L191.65,762.50 L193.50,762.64 L195.35,762.78 L197.21,762.94 L199.06,763.10 L200.92,763.29 L202.77,763.49 L204.62,763.71 L206.48,763.94 L208.33,764.20 L210.18,764.48 L212.04,764.77 L213.89,765.08 L215.75,765.40 L217.60,765.74 L219.45,766.08 L221.31,766.44 L223.16,766.81 L225.01,767.18 L226.87,767.56 L228.72,767.95 L230.58,768.34 L232.43,768.73 L234.28,769.13 L236.14,769.53 L237.99,769.92 L239.85,770.32 L241.70,770.71 L243.55,771.10 L245.41,771.49 L247.26,771.86 L249.11,772.23 L250.97,772.60 L252.82,772.96 L254.68,773.31 L256.53,773.67 L258.38,774.02 L260.24,774.38 L262.09,774.74 L263.94,775.10 L265.80,775.46 L267.65,775.84 L269.51,776.22 L271.36,776.61 L273.21,777.01 L275.07,777.42 L276.92,777.84 L278.78,778.28 L280.63,778.73 L282.48,779.19 L284.34,779.66 L286.19,780.14 L288.04,780.63 L289.90,781.13 L291.75,781.64 L293.61,782.16 L295.46,782.69 L297.31,783.23 L299.17,783.77 L301.02,784.32 L302.87,784.88 L304.73,785.44 L306.58,786.01 L308.44,786.59 L310.29,787.16 L312.14,787.75 L314.00,788.34 L315.85,788.93 L317.71,789.52 L319.56,790.13 L321.41,790.74 L323.27,791.36 L325.12,791.99 L326.97,792.63 L328.83,793.28 L330.68,793.95 L332.54,794.63 L334.39,795.32 L336.24,796.03 L338.10,796.76 L339.95,797.50 L341.80,798.27 L343.66,799.05 L345.51,799.84 L347.37,800.64 L349.22,801.45 L351.07,802.27 L352.93,803.08 L354.78,803.88 L356.64,804.67 L358.49,805.45 L360.34,806.21 L362.20,806.95 L364.05,807.67 L365.90,808.36 L367.76,809.01 L369.61,809.62 L371.47,810.20 L373.32,810.76 L375.17,811.30 L377.03,811.82 L378.88,812.35 L380.73,812.88 L382.59,813.42 L384.44,813.98 L386.30,814.56 L388.15,815.16 L390.00,815.78 L391.86,816.41 L393.71,817.06 L395.56,817.71 L397.42,818.38 L399.27,819.06 L401.13,819.75 L402.98,820.44 L404.83,821.14 L406.69,821.84 L408.54,822.54 L410.40,823.25 L412.25,823.95 L414.10,824.65 L415.96,825.35 L417.81,826.06 L419.66,826.77 L421.52,827.49 L423.37,828.22 L425.23,828.97 L427.08,829.74 L428.93,830.53 L430.79,831.34 L432.64,832.19 L434.49,833.06 L436.35,833.97 L438.20,834.92 L440.06,835.88 L441.91,836.86 L443.76,837.83 L445.62,838.78 L447.47,839.69 L449.33,840.56 L451.18,841.36 L453.03,842.08 L454.89,842.73 L456.74,843.31 L458.59,843.82 L460.45,844.26 L462.30,844.63 L464.16,844.95 L466.01,845.22 L467.86,845.43 L469.72,845.59 L471.57,845.72 L473.42,845.80 L475.28,845.84 L477.13,845.85 L478.99,845.83 L480.84,845.79 L482.69,845.72 L484.55,845.64 L486.40,845.53 L488.26,845.42 L490.11,845.30 L491.96,845.17 L493.82,845.04 L495.67,844.92 L497.52,844.80 L499.38,844.68 L501.23,844.58 L503.09,844.50 L504.94,844.43 L506.79,844.39 L508.65,844.37 L510.50,844.38 L512.35,844.43 L514.21,844.51 L516.06,844.63 L517.92,844.79 L519.77,845.00 L521.62,845.26 L523.48,845.57 L525.33,845.94 L527.19,846.37 L529.04,846.84 L530.89,847.34 L532.75,847.88 L534.60,848.43 L536.45,848.99 L538.31,849.55 L540.16,850.10 L542.02,850.63 L543.87,851.14 L545.72,851.60 L547.58,852.02 L549.43,852.40 L551.28,852.72 L553.14,853.00 L554.99,853.24 L556.85,853.43 L558.70,853.58 L560.55,853.69 L562.41,853.75 L564.26,853.78 L566.12,853.77 L567.97,853.72 L569.82,853.64 L571.68,853.52 L573.53,853.37 L575.38,853.18 L577.24,852.97 L579.09,852.72 L580.95,852.45 L582.80,852.16 L584.65,851.88 L586.51,851.60 L588.36,851.35 L590.21,851.14 L592.07,850.99 L593.92,850.89 L595.78,850.85 L597.63,850.86 L599.48,850.90 L601.34,850.96 L603.19,851.03 L605.05,851.09 L606.90,851.15 L608.75,851.17 L610.61,851.16 L612.46,851.10 L614.31,850.98 L616.17,850.78 L618.02,850.50 L619.88,850.13 L621.73,849.65 L623.58,849.09 L625.44,848.46 L627.29,847.76 L629.14,847.00 L631.00,846.18 L632.85,845.33 L634.71,844.43 L636.56,843.51 L638.41,842.56 L640.27,841.63 L642.12,840.74 L643.97,839.93 L645.83,839.23 L647.68,838.67 L649.54,838.29 L651.39,838.11 L653.24,838.17" stroke="#ffc0cb" stroke-width="2.73" stroke-dasharray="10.1,4.38"/>
<path d="M98.96,745.69 L100.00,745.92 L101.05,746.15 L102.10,746.38 L103.15,746.62 L104.20,746.85 L105.25,747.09 L106.30,747.32 L107.35,747.56 L108.40,747.80 L109.45,748.04 L110.49,748.28 L111.54,748.52 L112.59,748.76 L113.64,749.00 L114.69,749.24 L115.74,749.49 L116.79,749.73 L117.84,749.98 L118.89,750.23 L119.94,750.47 L120.98,750.72 L122.03,750.97 L123.08,751.23 L124.13,751.48 L125.18,751.73 L126.23,751.98 L127.28,752.24 L128.33,752.50 L129.38,752.75 L130.43,753.01 L131.47,753.27 L132.52,753.53 L133.57,753.79 L134.62,754.05 L135.67,754.32 L136.72,754.58 L137.77,754.85 L138.82,755.11 L139.87,755.38 L140.92,755.65 L141.96,755.92 L143.01,756.19 L144.06,756.46 L145.11,756.74 L146.16,757.01 L147.21,757.29 L148.26,757.56 L149.31,757.84 L150.36,758.12 L151.41,758.40 L152.45,758.68 L153.50,758.96 L154.55,759.24 L155.60,759.53 L156.65,759.82 L157.70,760.10 L158.75,760.39 L159.80,760.68 L160.85,760.97 L161.89,761.26 L162.94,761.56 L163.99,761.85 L165.04,762.14 L166.09,762.44 L167.14,762.74 L168.19,763.04 L169.24,763.34 L170.29,763.64 L171.34,763.95 L172.38,764.25 L173.43,764.56 L174.48,764.86 L175.53,765.17 L176.58,765.48 L177.63,765.79 L178.68,766.10 L179.73,766.42 L180.78,766.73 L181.83,767.05 L182.87,767.37 L183.92,767.69 L184.97,768.01 L186.02,768.33 L187.07,768.66 L188.12,768.98 L189.17,769.31 L190.22,769.64 L191.27,769.96 L192.32,770.30 L193.36,770.63 L194.41,770.96 L195.46,771.30 L196.51,771.64 L197.56,771.97 L198.61,772.31 L199.66,772.66 L200.71,773.00 L201.76,773.34 L202.81,773.69 L203.85,774.04 L204.90,774.39 L205.95,774.74 L207.00,775.09 L208.05,775.45 L209.10,775.80 L210.15,776.16 L211.20,776.52 L212.25,776.88 L213.30,777.25 L214.34,777.61 L215.39,777.98 L216.44,778.34 L217.49,778.71 L218.54,779.09 L219.59,779.46 L220.64,779.83 L221.69,780.21 L222.74,780.59 L223.78,780.97 L224.83,781.35 L225.88,781.74 L226.93,782.12 L227.98,782.51 L229.03,782.90 L230.08,783.29 L231.13,783.69 L232.18,784.08 L233.23,784.48 L234.27,784.88 L235.32,785.28 L236.37,785.69 L237.42,786.09 L238.47,786.50 L239.52,786.91 L240.57,787.32 L241.62,787.73 L242.67,788.15 L243.72,788.57 L244.76,788.99 L245.81,789.41 L246.86,789.84 L247.91,790.26 L248.96,790.69 L250.01,791.12 L251.06,791.55 L252.11,791.99 L253.16,792.43 L254.21,792.87 L255.25,793.31 L256.30,793.75 L257.35,794.20 L258.40,794.65 L259.45,795.10 L260.50,795.56 L261.55,796.01 L262.60,796.47 L263.65,796.93 L264.70,797.40 L265.74,797.86 L266.79,798.33 L267.84,798.80 L268.89,799.28 L269.94,799.75 L270.99,800.23 L272.04,800.71 L273.09,801.20 L274.14,801.68 L275.19,802.17 L276.23,802.66 L277.28,803.16 L278.33,803.66 L279.38,804.16 L280.43,804.66 L281.48,805.16 L282.53,805.67 L283.58,806.18 L284.63,806.70 L285.67,807.22 L286.72,807.74 L287.77,808.26 L288.82,808.79 L289.87,809.31 L290.92,809.85 L291.97,810.38 L293.02,810.92 L294.07,811.46 L295.12,812.00 L296.16,812.55 L297.21,813.10 L298.26,813.66 L299.31,814.21 L300.36,814.77 L301.41,815.34 L302.46,815.90 L303.51,816.47 L304.56,817.05 L305.61,817.63 L306.65,818.21 L307.70,818.79 L308.75,819.38 L309.80,819.97 L310.85,820.56 L311.90,821.16 L312.95,821.76 L314.00,822.37 L315.05,822.98 L316.10,823.59 L317.14,824.21 L318.19,824.83 L319.24,825.45 L320.29,826.08 L321.34,826.71 L322.39,827.35 L323.44,827.99 L324.49,828.63 L325.54,829.28 L326.59,829.93 L327.63,830.59 L328.68,831.25 L329.73,831.91 L330.78,832.58 L331.83,833.25 L332.88,833.93 L333.93,834.61 L334.98,835.30 L336.03,835.99 L337.08,836.69 L338.12,837.39 L339.17,838.09 L340.22,838.80 L341.27,839.51 L342.32,840.23 L343.37,840.95 L344.42,841.68 L345.47,842.42 L346.52,843.15 L347.56,843.90 L348.61,844.64 L349.66,845.40 L350.71,846.15 L351.76,846.92 L352.81,847.69 L353.86,848.46 L354.91,849.24 L355.96,850.02 L357.01,850.81 L358.05,851.61 L359.10,852.41 L360.15,853.22 L361.20,854.03 L362.25,854.85 L363.30,855.67 L364.35,856.50 L365.40,857.34 L366.45,858.18 L367.50,859.02 L368.54,859.88 L369.59,860.74 L370.64,861.60 L371.69,862.48 L372.74,863.36 L373.79,864.24 L374.84,865.13 L375.89,866.03 L376.94,866.94 L377.99,867.85 L379.03,868.77 L380.08,869.69 L381.13,870.63 L382.18,871.57 L383.23,872.51 L384.28,873.47 L385.33,874.43 L386.38,875.40 L387.43,876.37 L388.48,877.36 L389.52,878.35 L390.57,879.35 L391.62,880.36 L392.67,881.37 L393.72,882.40 L394.77,883.43 L395.82,884.47 L396.87,885.51 L397.92,886.57 L398.96,887.64 L400.01,888.71 L401.06,889.79 L402.11,890.88 L403.16,891.98 L404.21,893.09 L405.26,894.21 L406.31,895.34 L407.36,896.47 L408.41,897.62 L409.45,898.78 L410.50,899.94 L411.55,901.12 L412.60,902.30 L413.65,903.50 L414.70,904.71 L415.75,905.92 L416.80,907.15 L417.85,908.39 L418.90,909.64 L419.94,910.90 L420.99,912.17 L422.04,913.45 L423.09,914.74 L424.14,916.05 L425.19,917.36 L426.24,918.69 L427.29,920.03 L428.34,921.39 L429.39,922.75 L430.43,924.13 L431.48,925.52 L432.53,926.92 L433.58,928.34 L434.63,929.77 L435.68,931.21 L436.73,932.67 L437.78,934.14 L438.83,935.62 L439.88,937.12 L440.92,938.63 L441.97,940.16 L443.02,941.70 L444.07,943.26 L445.12,944.84 L446.17,946.42 L447.22,948.03 L448.27,949.65 L449.32,951.28 L450.37,952.94 L451.41,954.61 L452.46,956.29 L453.51,958.00 L454.56,959.72 L455.61,961.46 L456.66,963.21 L457.71,964.99 L458.76,966.78 L459.81,968.60 L460.85,970.43 L461.90,972.28 L462.95,974.15 L464.00,976.04 L465.05,977.96 L466.10,979.89 L467.15,981.84 L468.20,983.82 L469.25,985.82 L470.30,987.84 L471.34,989.88 L472.39,991.94 L473.44,994.03 L474.49,996.14 L475.54,998.28 L476.59,1000.44 L477.64,1002.63 L478.69,1004.84 L479.74,1007.08 L480.79,1009.34 L481.83,1011.63 L482.88,1013.95 L483.93,1016.29 L484.98,1018.67 L486.03,1021.07 L487.08,1023.50 L488.13,1025.96 L489.18,1028.46 L490.23,1030.98 L491.28,1033.54 L492.32,1036.12 L493.37,1038.74 L494.42,1041.40 L495.47,1044.08 L496.52,1046.81 L497.57,1049.56 L498.62,1052.36 L499.67,1055.19 L500.72,1058.05 L501.77,1060.96 L502.81,1063.91 L503.86,1066.89 L504.91,1069.92 L505.96,1072.98 L507.01,1076.09 L508.06,1079.25 L509.11,1082.44 L510.16,1085.69 L511.21,1088.98 L512.26,1092.31 L513.30,1095.69 L514.35,1099.13 L515.40,1102.61 L516.45,1106.14 L517.50,1109.73" stroke="#ff0000" stroke-width="2.73" stroke-dasharray="10.1,4.38"/>
<path d="M98.96,838.20 L653.24,838.20" stroke="#000" stroke-width="2.73" stroke-dasharray="10.1,4.38"/>
</g>
<line x1="71.6" y1="630.5999999999999" x2="71.6" y2="1057.0" stroke="#5a5a5a" stroke-width="1.5"/>
<line x1="71.7" y1="631.3" x2="681.2" y2="631.3" stroke="#3a3a3a" stroke-width="1.5"/>
<line x1="71.7" y1="1056.1" x2="682.2" y2="1056.1" stroke="#8f8f8f" stroke-width="2.4"/>
<line x1="681.4" y1="630.5999999999999" x2="681.4" y2="1057.0" stroke="#8a8a8a" stroke-width="2.2"/>
<g stroke="#222" stroke-width="1.1"><line x1="93.30" y1="1056.0" x2="93.30" y2="1059.50"/><line x1="206.70" y1="1056.0" x2="206.70" y2="1059.50"/><line x1="319.30" y1="1056.0" x2="319.30" y2="1059.50"/><line x1="432.60" y1="1056.0" x2="432.60" y2="1059.50"/><line x1="546.30" y1="1056.0" x2="546.30" y2="1059.50"/><line x1="658.90" y1="1056.0" x2="658.90" y2="1059.50"/><line x1="68.20" y1="1045.10" x2="71.7" y2="1045.10"/><line x1="68.20" y1="993.30" x2="71.7" y2="993.30"/><line x1="68.20" y1="941.80" x2="71.7" y2="941.80"/><line x1="68.20" y1="890.30" x2="71.7" y2="890.30"/><line x1="68.20" y1="838.20" x2="71.7" y2="838.20"/><line x1="68.20" y1="786.20" x2="71.7" y2="786.20"/><line x1="68.20" y1="734.50" x2="71.7" y2="734.50"/><line x1="68.20" y1="682.90" x2="71.7" y2="682.90"/><line x1="68.20" y1="631.30" x2="71.7" y2="631.30"/></g>
<g font-family='"Liberation Sans", sans-serif' font-size="10.9" fill="#222" stroke="#222" stroke-width="0.12"><text x="88.80" y="1071.50" text-anchor="middle" textLength="4.4" lengthAdjust="spacingAndGlyphs">0</text><text x="92.80" y="1071.50" text-anchor="middle">.</text><text x="97.80" y="1071.50" text-anchor="middle" textLength="4.4" lengthAdjust="spacingAndGlyphs">0</text><text x="201.92" y="1071.50" text-anchor="middle" textLength="4.4" lengthAdjust="spacingAndGlyphs">0</text><text x="205.92" y="1071.50" text-anchor="middle">.</text><text x="210.92" y="1071.50" text-anchor="middle" textLength="4.4" lengthAdjust="spacingAndGlyphs">2</text><text x="315.04" y="1071.50" text-anchor="middle" textLength="4.4" lengthAdjust="spacingAndGlyphs">0</text><text x="319.04" y="1071.50" text-anchor="middle">.</text><text x="324.04" y="1071.50" text-anchor="middle" textLength="4.4" lengthAdjust="spacingAndGlyphs">4</text><text x="428.16" y="1071.50" text-anchor="middle" textLength="4.4" lengthAdjust="spacingAndGlyphs">0</text><text x="432.16" y="1071.50" text-anchor="middle">.</text><text x="437.16" y="1071.50" text-anchor="middle" textLength="4.4" lengthAdjust="spacingAndGlyphs">6</text><text x="541.28" y="1071.50" text-anchor="middle" textLength="4.4" lengthAdjust="spacingAndGlyphs">0</text><text x="545.28" y="1071.50" text-anchor="middle">.</text><text x="550.28" y="1071.50" text-anchor="middle" textLength="4.4" lengthAdjust="spacingAndGlyphs">8</text><text x="654.40" y="1071.50" text-anchor="middle" textLength="4.4" lengthAdjust="spacingAndGlyphs">1</text><text x="658.40" y="1071.50" text-anchor="middle">.</text><text x="663.40" y="1071.50" text-anchor="middle" textLength="4.4" lengthAdjust="spacingAndGlyphs">0</text><rect x="46.90" y="1044.38" width="3.6" height="1.3"/><text x="53.30" y="1048.98" text-anchor="middle" textLength="4.4" lengthAdjust="spacingAndGlyphs">0</text><text x="57.40" y="1048.98" text-anchor="middle">.</text><text x="62.50" y="1048.98" text-anchor="middle" textLength="4.4" lengthAdjust="spacingAndGlyphs">8</text><rect x="46.90" y="992.66" width="3.6" height="1.3"/><text x="53.30" y="997.26" text-anchor="middle" textLength="4.4" lengthAdjust="spacingAndGlyphs">0</text><text x="57.40" y="997.26" text-anchor="middle">.</text><text x="62.50" y="997.26" text-anchor="middle" textLength="4.4" lengthAdjust="spacingAndGlyphs">6</text><rect x="46.90" y="940.94" width="3.6" height="1.3"/><text x="53.30" y="945.54" text-anchor="middle" textLength="4.4" lengthAdjust="spacingAndGlyphs">0</text><text x="57.40" y="945.54" text-anchor="middle">.</text><text x="62.50" y="945.54" text-anchor="middle" textLength="4.4" lengthAdjust="spacingAndGlyphs">4</text><rect x="46.90" y="889.22" width="3.6" height="1.3"/><text x="53.30" y="893.82" text-anchor="middle" textLength="4.4" lengthAdjust="spacingAndGlyphs">0</text><text x="57.40" y="893.82" text-anchor="middle">.</text><text x="62.50" y="893.82" text-anchor="middle" textLength="4.4" lengthAdjust="spacingAndGlyphs">2</text><text x="53.30" y="842.10" text-anchor="middle" textLength="4.4" lengthAdjust="spacingAndGlyphs">0</text><text x="57.40" y="842.10" text-anchor="middle">.</text><text x="62.50" y="842.10" text-anchor="middle" textLength="4.4" lengthAdjust="spacingAndGlyphs">0</text><text x="53.30" y="790.38" text-anchor="middle" textLength="4.4" lengthAdjust="spacingAndGlyphs">0</text><text x="57.40" y="790.38" text-anchor="middle">.</text><text x="62.50" y="790.38" text-anchor="middle" textLength="4.4" lengthAdjust="spacingAndGlyphs">2</text><text x="53.30" y="738.66" text-anchor="middle" textLength="4.4" lengthAdjust="spacingAndGlyphs">0</text><text x="57.40" y="738.66" text-anchor="middle">.</text><text x="62.50" y="738.66" text-anchor="middle" textLength="4.4" lengthAdjust="spacingAndGlyphs">4</text><text x="53.30" y="686.94" text-anchor="middle" textLength="4.4" lengthAdjust="spacingAndGlyphs">0</text><text x="57.40" y="686.94" text-anchor="middle">.</text><text x="62.50" y="686.94" text-anchor="middle" textLength="4.4" lengthAdjust="spacingAndGlyphs">6</text><text x="53.30" y="635.22" text-anchor="middle" textLength="4.4" lengthAdjust="spacingAndGlyphs">0</text><text x="57.40" y="635.22" text-anchor="middle">.</text><text x="62.50" y="635.22" text-anchor="middle" textLength="4.4" lengthAdjust="spacingAndGlyphs">8</text></g>
<text x="236.6" y="624" font-family='"Liberation Mono", monospace' font-size="18.3" textLength="279" lengthAdjust="spacingAndGlyphs" fill="#111" stroke="#111" stroke-width="0.3">Decision Curve of Different Models</text>
<text x="300.5" y="1088.6" font-family='"Liberation Mono", monospace' font-size="15.8" textLength="150.3" lengthAdjust="spacingAndGlyphs" fill="#111" stroke="#111" stroke-width="0.15">Threshold Probability</text>
<text transform="translate(41.1,891.4) rotate(-90)" x="0" y="0" font-family='"Liberation Mono", monospace' font-size="14" textLength="96.5" lengthAdjust="spacingAndGlyphs" fill="#111" stroke="#111" stroke-width="0.1">Net Benefit</text>
<rect x="534.8000000000001" y="640.0" width="142.80" height="143.40" rx="2" fill="#8a8a8a" fill-opacity="0.9"/>
<rect x="532.2" y="637.6" width="142.80" height="143.40" rx="2" fill="#fff" stroke="#d0d0d0" stroke-width="1"/>
<line x1="535.3" y1="647.70" x2="559.9" y2="647.70" stroke="#0000ff" stroke-width="3.2"/>
<text x="567.3" y="651.60" font-family='"Liberation Mono", monospace' font-size="12.6" textLength="43.0" lengthAdjust="spacingAndGlyphs" fill="#111" stroke="#111" stroke-width="0.2">CatBoost</text>
<line x1="535.3" y1="665.13" x2="559.9" y2="665.13" stroke="#ffa500" stroke-width="3.2" stroke-dasharray="10.1,4.38"/>
<text x="567.3" y="669.03" font-family='"Liberation Mono", monospace' font-size="12.6" textLength="44.2" lengthAdjust="spacingAndGlyphs" fill="#111" stroke="#111" stroke-width="0.2">LightGBM</text>
<line x1="535.3" y1="682.56" x2="559.9" y2="682.56" stroke="#008000" stroke-width="3.2" stroke-dasharray="10.1,4.38"/>
<text x="567.3" y="686.46" font-family='"Liberation Mono", monospace' font-size="12.6" textLength="103.4" lengthAdjust="spacingAndGlyphs" fill="#111" stroke="#111" stroke-width="0.2">Logistic Regression</text>
<line x1="535.3" y1="699.99" x2="559.9" y2="699.99" stroke="#800080" stroke-width="3.2" stroke-dasharray="2.73,4.51"/>
<text x="567.3" y="703.89" font-family='"Liberation Mono", monospace' font-size="12.6" textLength="69.8" lengthAdjust="spacingAndGlyphs" fill="#111" stroke="#111" stroke-width="0.2">Random Forest</text>
<line x1="535.3" y1="717.42" x2="559.9" y2="717.42" stroke="#a52a2a" stroke-width="3.2"/>
<text x="567.3" y="721.32" font-family='"Liberation Mono", monospace' font-size="12.6" textLength="16.5" lengthAdjust="spacingAndGlyphs" fill="#111" stroke="#111" stroke-width="0.2">SVM</text>
<line x1="535.3" y1="734.85" x2="559.9" y2="734.85" stroke="#ffc0cb" stroke-width="3.2" stroke-dasharray="10.1,4.38"/>
<text x="567.3" y="738.75" font-family='"Liberation Mono", monospace' font-size="12.6" textLength="15.8" lengthAdjust="spacingAndGlyphs" fill="#111" stroke="#111" stroke-width="0.2">DNN</text>
<line x1="535.3" y1="752.28" x2="559.9" y2="752.28" stroke="#ff0000" stroke-width="3.2" stroke-dasharray="10.1,4.38"/>
<text x="567.3" y="756.18" font-family='"Liberation Mono", monospace' font-size="12.6" textLength="47.8" lengthAdjust="spacingAndGlyphs" fill="#111" stroke="#111" stroke-width="0.2">Treat All</text>
<line x1="535.3" y1="769.71" x2="559.9" y2="769.71" stroke="#000000" stroke-width="3.2" stroke-dasharray="10.1,4.38"/>
<text x="567.3" y="773.61" font-family='"Liberation Mono", monospace' font-size="12.6" textLength="54.3" lengthAdjust="spacingAndGlyphs" fill="#111" stroke="#111" stroke-width="0.2">Treat None</text></svg></body></html>
